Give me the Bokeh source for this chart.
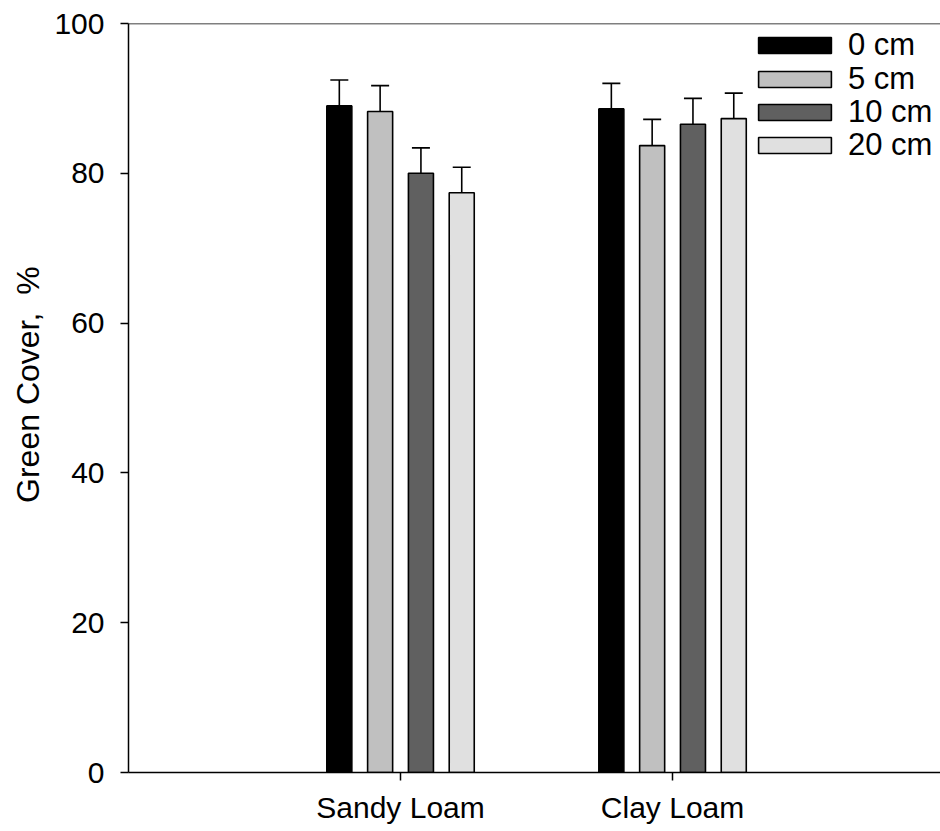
from bokeh.plotting import figure
from bokeh.models import (ColumnDataSource, Range1d, FixedTicker, Span, Whisker,
                          TeeHead, Legend, LegendItem)
from bokeh.embed import file_html
from bokeh.resources import INLINE

categories = ["Sandy Loam", "Clay Loam"]
depths = ["0 cm", "5 cm", "10 cm", "20 cm"]
colors = ["#000000", "#C0C0C0", "#606060", "#E0E0E0"]
values = {
    "0 cm": [89.0, 88.6],
    "5 cm": [88.25, 83.7],
    "10 cm": [80.0, 86.55],
    "20 cm": [77.4, 87.3],
}
errors = {
    "0 cm": [3.45, 3.4],
    "5 cm": [3.45, 3.5],
    "10 cm": [3.4, 3.45],
    "20 cm": [3.4, 3.4],
}
yticks = [0, 20, 40, 60, 80, 100]

offsets = [-0.225, -0.075, 0.075, 0.225]
bar_w = 0.092
FONT = "Liberation Sans"

p = figure(width=940, height=831, output_backend="svg", toolbar_location=None,
           x_range=Range1d(0, 2.985), y_range=Range1d(0, 100),
           min_border_left=128, min_border_right=0, min_border_top=23,
           min_border_bottom=59)
p.outline_line_color = None
p.grid.visible = False
p.background_fill_color = "white"

# legend rows: screen offset (px) of each row's bottom edge above the frame bottom
legend_rows_y = [709, 675.5, 642, 609]

for i, d in enumerate(depths):
    xs = [k + 1 + offsets[i] for k in range(len(categories))]
    tops = [v + e for v, e in zip(values[d], errors[d])]
    src = ColumnDataSource(dict(x=xs, top=values[d], up=tops))
    r = p.vbar(x="x", top="top", width=bar_w, source=src, fill_color=colors[i],
               line_color="black", line_width=1.6)
    w = Whisker(base="x", lower="top", upper="up", source=src,
                line_color="black", line_width=1.6, lower_head=None,
                upper_head=TeeHead(size=18, line_color="black", line_width=1.6))
    p.add_layout(w)
    leg = Legend(items=[LegendItem(label=d, renderers=[r])],
                 location=(621, legend_rows_y[i]), glyph_width=91, glyph_height=20,
                 label_text_font_size="31px", label_text_font=FONT,
                 label_text_color="black", label_standoff=8, spacing=0,
                 padding=0, margin=0, border_line_color=None,
                 background_fill_alpha=0)
    p.add_layout(leg, "center")

p.add_layout(Span(location=100, dimension="width", line_color="black", line_width=1.5))

p.xaxis.ticker = FixedTicker(ticks=[1, 2])
p.xaxis.major_label_overrides = {1: categories[0], 2: categories[1]}
p.yaxis.ticker = FixedTicker(ticks=yticks)
for ax in (p.xaxis, p.yaxis):
    ax.axis_line_width = 1.5
    ax.axis_line_color = "black"
    ax.major_tick_line_width = 1.5
    ax.major_tick_line_color = "black"
    ax.major_tick_in = 0
    ax.major_tick_out = 8
    ax.minor_tick_line_color = None
    ax.major_label_text_font = FONT
    ax.major_label_text_font_size = "30px"
    ax.major_label_text_color = "black"
p.xaxis.major_label_standoff = 10
p.yaxis.major_label_standoff = 16
p.yaxis.axis_label = "\u00a0\u00a0\u00a0Green Cover,\u00a0 %"
p.yaxis.axis_label_text_font = FONT
p.yaxis.axis_label_text_font_size = "32px"
p.yaxis.axis_label_text_font_style = "normal"
p.yaxis.axis_label_text_color = "black"
p.yaxis.axis_label_standoff = 5

open("out.html", "w").write(file_html(p, INLINE))
